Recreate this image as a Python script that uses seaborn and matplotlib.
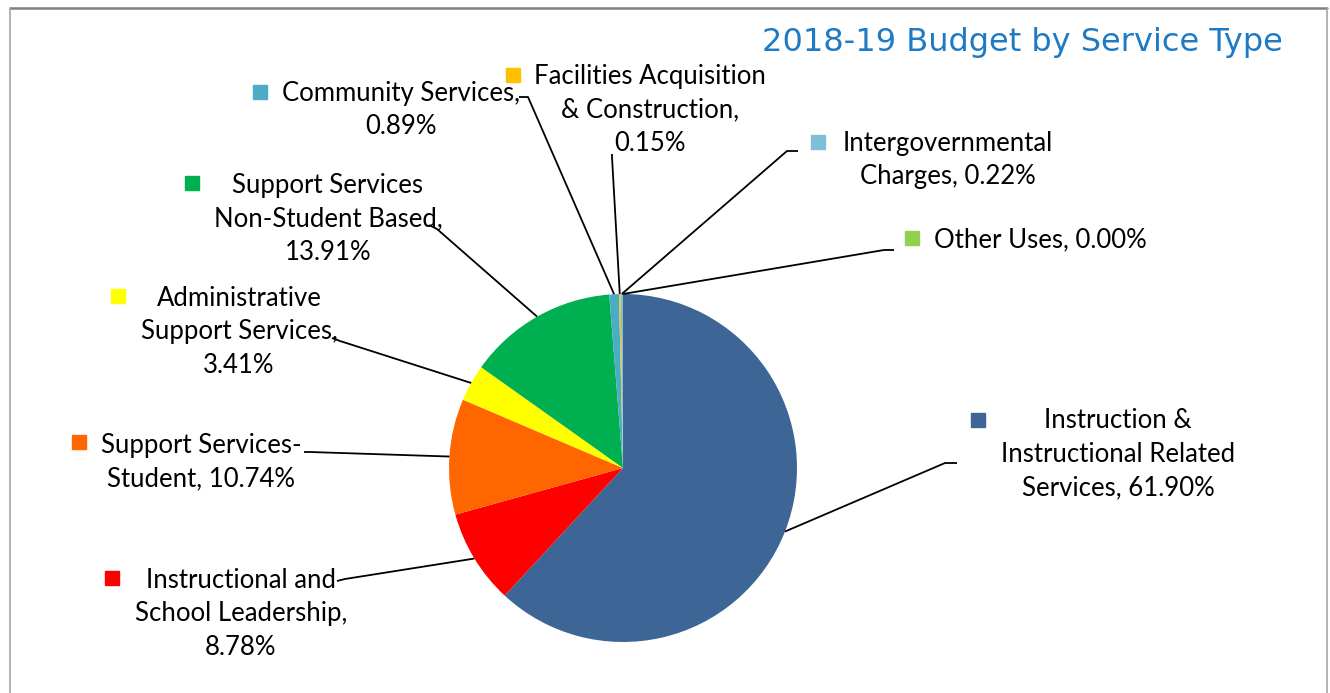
import matplotlib
matplotlib.use("Agg")
import matplotlib.pyplot as plt
import seaborn as sns
import numpy as np

# budget shares by service type (percent)
categories = [
    "Instruction & Instructional Related Services",
    "Instructional and School Leadership",
    "Support Services-Student",
    "Administrative Support Services",
    "Support Services Non-Student Based",
    "Community Services",
    "Facilities Acquisition & Construction",
    "Intergovernmental Charges",
    "Other Uses",
]
shares = [61.90, 8.78, 10.74, 3.41, 13.91, 0.89, 0.15, 0.22, 0.00]
colors = ["#3d6697", "#ff0000", "#ff6600", "#ffff00", "#00b050",
          "#4bacc6", "#ffc000", "#7fbfd6", "#92d050"]
# how each category name is broken over lines in its data label
label_names = [
    "Instruction &\nInstructional Related\nServices, ",
    "Instructional and\nSchool Leadership,\n",
    "Support Services-\nStudent, ",
    "Administrative\nSupport Services,\n",
    "Support Services\nNon-Student Based,\n",
    "Community Services,\n",
    "Facilities Acquisition\n& Construction,\n",
    "Intergovernmental\nCharges, ",
    "Other Uses, ",
]

W, H = 1330, 693
CX, CY, R = 623, 468, 174

# label layout in pixels (y down): marker, text centre / first line, elbow, end
layout = [
    ((978, 420), (1118, 420), (945, 463), (957, 463)),
    ((112, 578), (241, 580), (345, 579), (337, 581)),
    ((79, 442), (201, 445), (310, 452), (304, 452)),
    ((118, 296), (239, 298), (340, 341), (332, 338)),
    ((192, 183), (328, 185), (437, 229), (429, 225)),
    ((260, 92), (401, 93), (528, 97), (519, 97)),
    ((513, 75), (650, 76), (612, 157), (612, 154)),
    ((818, 142), (948, 143), (787, 151), (798, 151)),
    ((912, 238), (1040, 240), (884, 250), (894, 250)),
]

sns.set_theme(style="white")
plt.rcParams["font.family"] = ["Lato", "DejaVu Sans"]


def py(y):
    return H - y


fig = plt.figure(figsize=(W / 100, H / 100), dpi=100)
ax = fig.add_axes([0, 0, 1, 1])

wedges, _ = ax.pie(shares, colors=colors, startangle=90, counterclock=False,
                   center=(CX, py(CY)), radius=R,
                   wedgeprops=dict(linewidth=0))
ax.set_xlim(0, W)
ax.set_ylim(0, H)
ax.set_aspect("auto")
ax.axis("off")

for w, name, val, col, (mk, tx, elb, end) in zip(wedges, label_names, shares,
                                                  colors, layout):
    mid = np.deg2rad((w.theta1 + w.theta2) / 2)
    sx = CX + R * np.cos(mid)
    sy = py(CY) + R * np.sin(mid)
    ax.plot([sx, elb[0], end[0]], [sy, py(elb[1]), py(end[1])],
            color="black", lw=1.3, solid_capstyle="butt", zorder=3)
    ax.plot(mk[0], py(mk[1]), marker="s", ms=10.5, color=col, mec=col,
            zorder=4)
    text = name + f"{val:.2f}%"
    n = text.count("\n")
    ax.text(tx[0], py(tx[1] + 17 * n), text, ha="center", va="center",
            multialignment="center", fontsize=18.5, linespacing=1.42,
            color="black", zorder=5)

ax.text(1283, py(42), "2018-19 Budget by Service Type", ha="right",
        va="center", fontsize=23, color="#1f7ac4",
        family="DejaVu Sans")

# chart frame
fig.add_artist(plt.Line2D([10 / W, 1327 / W], [1 - 8 / H, 1 - 8 / H],
                          transform=fig.transFigure, color="#7f7f7f", lw=1.8))
fig.add_artist(plt.Line2D([10 / W, 10 / W], [0, 1 - 8 / H],
                          transform=fig.transFigure, color="#a6a6a6", lw=1.2))
fig.add_artist(plt.Line2D([1327 / W, 1327 / W], [0, 1 - 8 / H],
                          transform=fig.transFigure, color="#a6a6a6", lw=1.2))

fig.savefig("out.png", dpi=100, facecolor="white")
